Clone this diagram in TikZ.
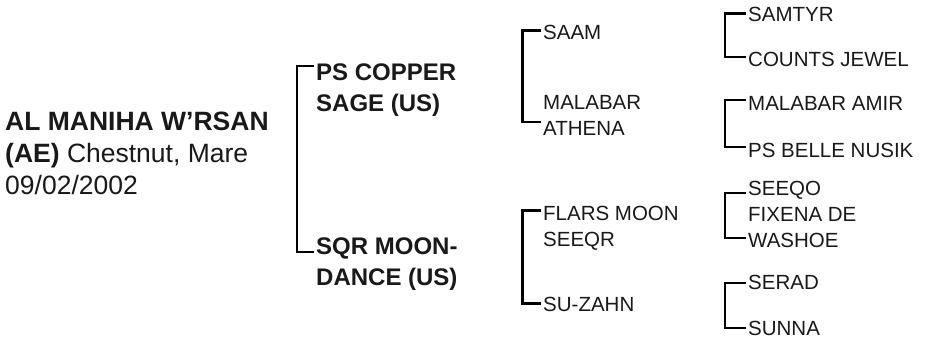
\documentclass[tikz,border=0pt]{standalone}
\usepackage{fontspec}
\setmainfont{Liberation Sans}
\begin{document}
\begin{tikzpicture}[x=1pt,y=-1pt,
  pedtext/.style={anchor=base west,inner sep=0pt,align=left,text=black!90},
  horsetext/.style={pedtext,font=\fontsize{26.5}{32}\selectfont},
  parenttext/.style={pedtext,font=\bfseries\fontsize{24}{31}\selectfont},
  anctext/.style={pedtext,font=\fontsize{20.5}{25.5}\selectfont},
  bracket/.style={line width=2.2pt}]
\useasboundingbox (0,0) rectangle (930,338);
% subject (base is the last line)
\node[horsetext] (h) at (5,194) {\textbf{AL MANIHA W'RSAN}\\\textbf{(AE)} Chestnut, Mare\\09/02/2002};
% parents
\node[parenttext] (s) at (316,111) {PS COPPER\\SAGE (US)};
\node[parenttext] (d) at (316,285) {SQR MOON-\\DANCE (US)};
% grandparents
\node[anctext] (ss) at (543,39) {SAAM};
\node[anctext] (sd) at (543,135) {MALABAR\\ATHENA};
\node[anctext] (ds) at (543,246) {FLARS MOON\\SEEQR};
\node[anctext] (dd) at (543,311) {SU-ZAHN};
% great-grandparents
\node[anctext] (sss) at (748,21) {SAMTYR};
\node[anctext] (ssd) at (748,66) {COUNTS JEWEL};
\node[anctext] (sds) at (748,110) {MALABAR AMIR};
\node[anctext] (sdd) at (748,157) {PS BELLE NUSIK};
\node[anctext] (dss) at (748,195) {SEEQO};
\node[anctext] (dsd) at (748,247) {FIXENA DE\\WASHOE};
\node[anctext] (dds) at (748,289) {SERAD};
\node[anctext] (ddd) at (748,335) {SUNNA};
% brackets
\draw[bracket] ([xshift=-2pt,yshift=45pt]s.base west) -- ++(-17,0) |- ([xshift=-2pt,yshift=33pt]d.base west);
\foreach \a/\b/\ya/\yb in {ss/sd/8.5/13, ds/dd/35.5/7.5}
  \draw[bracket] ([xshift=-2pt,yshift=\ya pt]\a.base west) -- ++(-18.5,0) |- ([xshift=-2pt,yshift=\yb pt]\b.base west);
\foreach \a/\b/\ya/\yb in {sss/ssd/7.5/9, sds/sdd/10/10, dss/dsd/2/9, dds/ddd/6/7}
  \draw[bracket] ([xshift=-2pt,yshift=\ya pt]\a.base west) -- ++(-21,0) |- ([xshift=-2pt,yshift=\yb pt]\b.base west);
\end{tikzpicture}
\end{document}
